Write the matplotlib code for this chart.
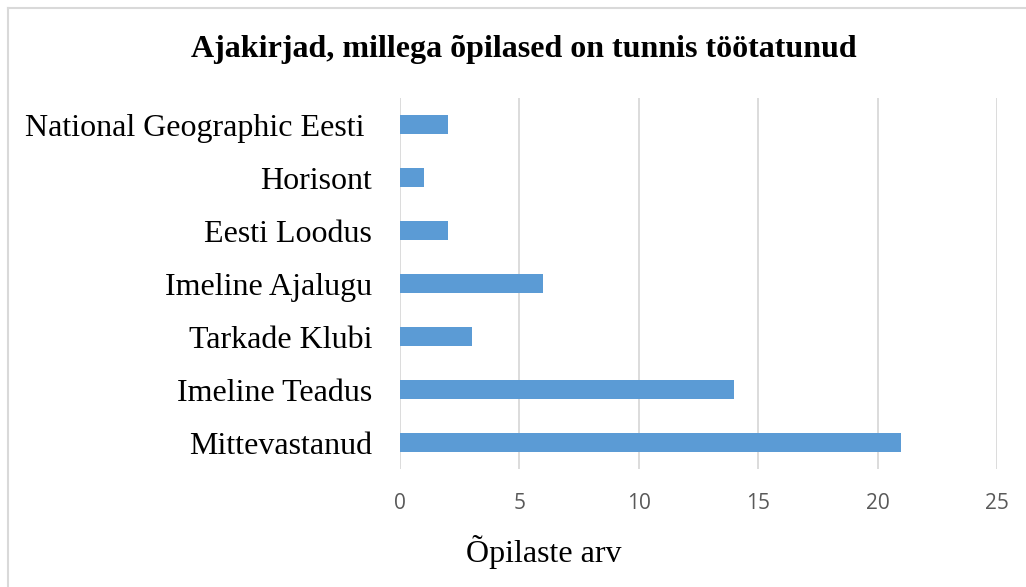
import matplotlib.pyplot as plt
from matplotlib.lines import Line2D

categories = ['Mittevastanud', 'Imeline Teadus', 'Tarkade Klubi', 'Imeline Ajalugu',
              'Eesti Loodus', 'Horisont', 'National Geographic Eesti ']
values = [21, 14, 3, 6, 2, 1, 2]
xticks = [0, 5, 10, 15, 20, 25]

title = 'Ajakirjad, millega õpilased on tunnis töötatunud'
xlabel = 'Õpilaste arv'

serif = ['Liberation Serif', 'DejaVu Serif']

fig = plt.figure(figsize=(10.26, 5.87), dpi=100)
ax = fig.add_axes([0.3899, 0.201, 0.9717 - 0.3899, 0.833 - 0.201])

ax.barh(range(len(categories)), values, height=0.35, color='#5B9BD5', zorder=3)
ax.set_xlim(0, 25)
ax.set_ylim(-0.5, len(categories) - 0.5)
ax.set_xticks(xticks)
ax.grid(axis='x', color='#D9D9D9', linewidth=1.3, zorder=0)
for s in ax.spines.values():
    s.set_visible(False)
ax.tick_params(length=0)
ax.set_yticks(range(len(categories)))
ax.set_yticklabels(categories, fontfamily=serif, fontsize=23, color='black')
ax.tick_params(axis='y', pad=20)
ax.tick_params(axis='x', pad=17)
for lab in ax.get_xticklabels():
    lab.set_fontfamily(['Open Sans', 'DejaVu Sans'])
    lab.set_fontsize(15)
    lab.set_color('#595959')

fig.text(0.511, 1 - 57 / 587, title, ha='center', va='baseline', fontfamily=serif,
         fontsize=23, fontweight='bold')
fig.text(0.53, 1 - 562 / 587, xlabel, ha='center', va='baseline', fontfamily=serif,
         fontsize=23)

# frame only on the left and top (picture is cut off on the other sides)
bx, by = 7.5 / 1026, 1 - 7.5 / 587
fig.lines.append(Line2D([bx, bx], [0, by], transform=fig.transFigure,
                        color='#D9D9D9', linewidth=1.5))
fig.lines.append(Line2D([bx, 1], [by, by], transform=fig.transFigure,
                        color='#D9D9D9', linewidth=1.5))

fig.savefig('out.png', dpi=100)
